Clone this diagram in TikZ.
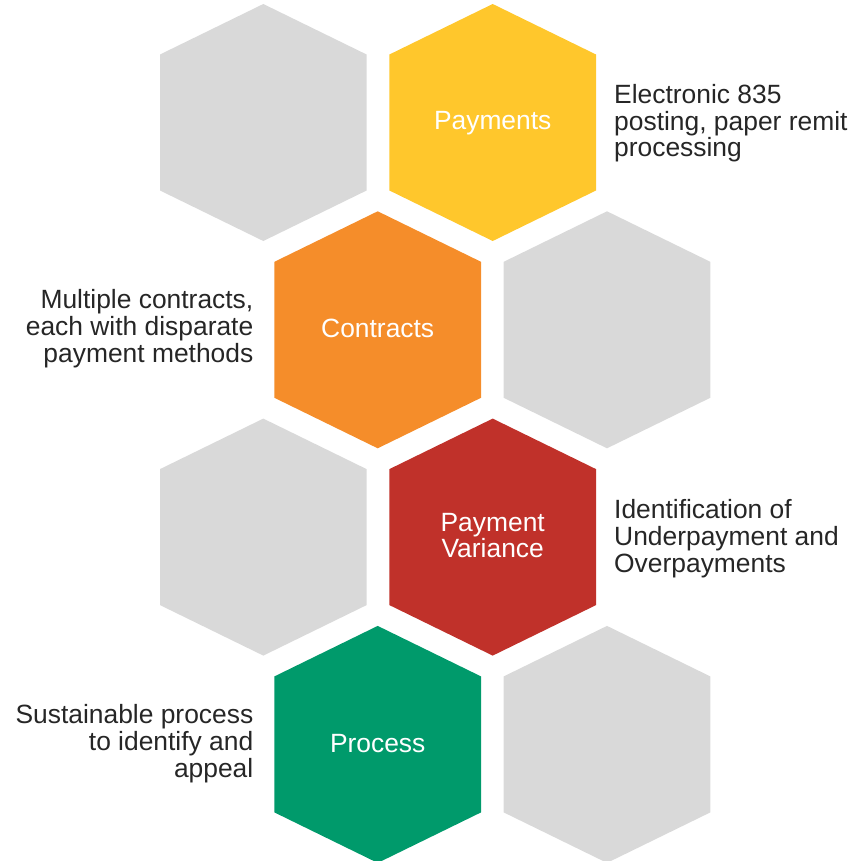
\documentclass[tikz,border=0pt]{standalone}
\usepackage{fontspec}
\setmainfont{Liberation Sans}
\definecolor{hexgray}{HTML}{D9D9D9}
\definecolor{hexyellow}{HTML}{FFC72C}
\definecolor{hexorange}{HTML}{F58D2A}
\definecolor{hexred}{HTML}{C0312A}
\definecolor{hexgreen}{HTML}{009A6B}
\definecolor{notegray}{HTML}{262626}
\begin{document}
\begin{tikzpicture}[x=1pt,y=-1pt,
  hexcell/.pic={\fill (0,-118.5) -- (103.3,-68) -- (103.3,68) -- (0,118.5)
                 -- (-103.3,68) -- (-103.3,-68) -- cycle;},
  hexlabel/.style={text=white, anchor=base, inner sep=0pt, align=center,
                   font=\fontsize{26.4}{26}\selectfont},
  note/.style={text=notegray, inner sep=0pt,
               font=\fontsize{26.4}{26.8}\selectfont}]
\useasboundingbox (0,0) rectangle (853,861);

% honeycomb, four rows of two cells
\pic[fill=hexgray]   (grayA) at (263.3,122.5) {hexcell};
\pic[fill=hexyellow] (payH)  at (492.7,122.5) {hexcell};
\pic[fill=hexorange] (conH)  at (377.7,329.8) {hexcell};
\pic[fill=hexgray]   (grayB) at (607.0,329.8) {hexcell};
\pic[fill=hexgray]   (grayC) at (263.3,537.1) {hexcell};
\pic[fill=hexred]    (varH)  at (492.7,537.1) {hexcell};
\pic[fill=hexgreen]  (proH)  at (377.7,744.4) {hexcell};
\pic[fill=hexgray]   (grayD) at (607.0,744.4) {hexcell};

% cell titles (base anchor sits on the last line)
\node[hexlabel] (payments) at (492.7,129.6) {Payments};
\node[hexlabel] (contracts) at (377.7,337.0) {Contracts};
\node[hexlabel] (variance) at (492.7,557.2) {Payment\\Variance};
\node[hexlabel] (process) at (377.7,752.2) {Process};

% descriptions beside the cells
\node[note, anchor=base west, align=left] (paynote) at (614.0,157.0)
  {Electronic 835\\posting, paper remit\\processing};
\node[note, anchor=base east, align=right] (connote) at (253.5,362.0)
  {Multiple contracts,\\each with disparate\\payment methods};
\node[note, anchor=base west, align=left] (varnote) at (614.0,572.0)
  {Identification of\\Underpayment and\\Overpayments};
\node[note, anchor=base east, align=right] (pronote) at (253.5,777.5)
  {Sustainable process\\to identify and\\appeal};
\end{tikzpicture}
\end{document}
